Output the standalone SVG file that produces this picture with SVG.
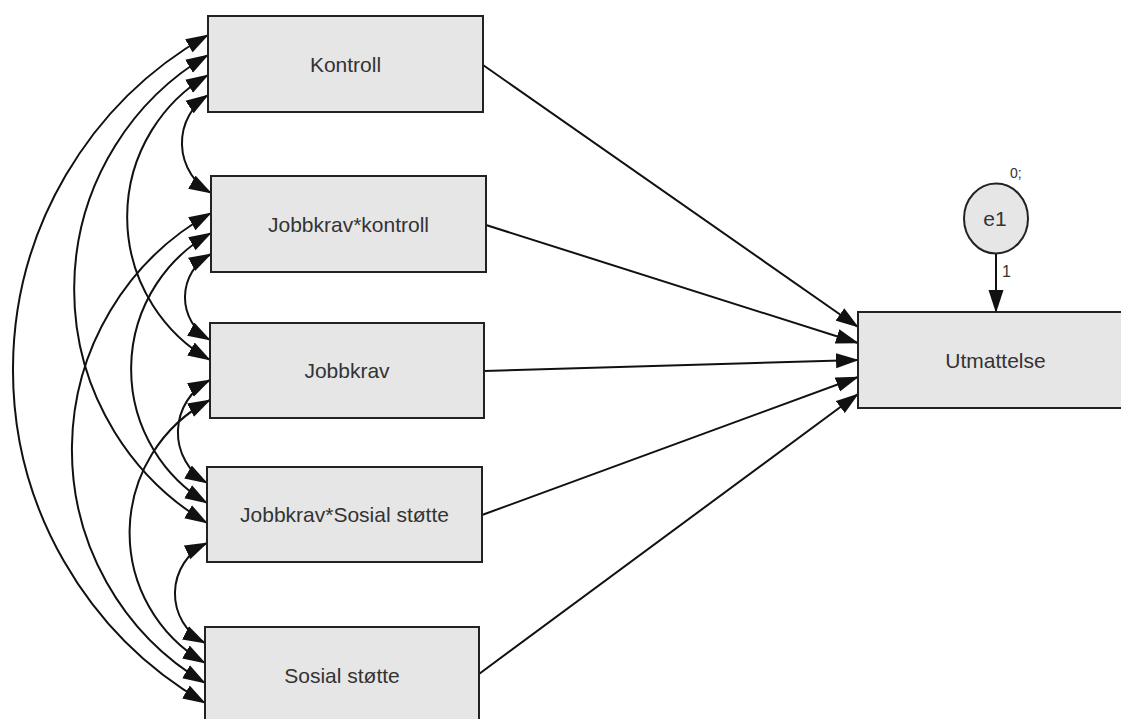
<svg xmlns="http://www.w3.org/2000/svg" width="1121" height="719" viewBox="0 0 1121 719">
<style>
.box{fill:#e6e6e6;stroke:#222;stroke-width:2}
.lbl{font-family:"Liberation Sans",Arial,sans-serif;font-size:21px;fill:#333;text-anchor:middle}
.small{font-family:"Liberation Sans",Arial,sans-serif;fill:#333}
.path{fill:none;stroke:#111;stroke-width:2;marker-end:url(#ah)}
.cov{fill:none;stroke:#111;stroke-width:2;marker-start:url(#ah);marker-end:url(#ah)}
</style>
<defs>
<marker id="ah" markerUnits="userSpaceOnUse" markerWidth="23" markerHeight="16" refX="22" refY="8" orient="auto-start-reverse" viewBox="0 0 23 16">
<path d="M0,0.5 L23,8 L0,15.5 z" fill="#111"/>
</marker>
</defs>
<rect width="1121" height="719" fill="#fff"/>
<g id="connectors">
<path class="path" d="M483,65 L858,327"/>
<path class="path" d="M486,225 L858,343"/>
<path class="path" d="M484,371 L858,360"/>
<path class="path" d="M482,515 L858,377"/>
<path class="path" d="M479,674 L858,394"/>
<path class="path" d="M996,253 L996,312"/>
<path class="cov" d="M208,35 A385,385 0 0 0 205,703"/>
<path class="cov" d="M208,55 A272,272 0 0 0 207,523"/>
<path class="cov" d="M208,75 A165,165 0 0 0 210,360"/>
<path class="cov" d="M208,95 A57.4,57.4 0 0 0 211,193"/>
<path class="cov" d="M211,213 A271,271 0 0 0 205,683"/>
<path class="cov" d="M211,233 A156,156 0 0 0 207,503"/>
<path class="cov" d="M211,254 A49,49 0 0 0 210,340"/>
<path class="cov" d="M210,380 A58.7,58.7 0 0 0 207,483"/>
<path class="cov" d="M210,400 A150,150 0 0 0 205,663"/>
<path class="cov" d="M207,543 A55.8,55.8 0 0 0 205,643"/>
<text class="small" x="1002" y="277" font-size="16">1</text>
</g>
<g id="kontroll"><rect class="box" x="208" y="16" width="275" height="96"/><text class="lbl" x="345.5" y="71.5">Kontroll</text></g>
<g id="jobbkrav-kontroll"><rect class="box" x="211" y="176" width="275" height="96"/><text class="lbl" x="348.5" y="231.5">Jobbkrav*kontroll</text></g>
<g id="jobbkrav"><rect class="box" x="210" y="323" width="274" height="95"/><text class="lbl" x="347" y="378">Jobbkrav</text></g>
<g id="jobbkrav-sosial"><rect class="box" x="207" y="467" width="275" height="95"/><text class="lbl" x="344.5" y="522">Jobbkrav*Sosial støtte</text></g>
<g id="sosial"><rect class="box" x="205" y="627" width="274" height="96"/><text class="lbl" x="342" y="682.5">Sosial støtte</text></g>
<g id="utmattelse"><rect class="box" x="858" y="312" width="275" height="96"/><text class="lbl" x="995.5" y="367.5">Utmattelse</text></g>
<g id="e1"><ellipse class="box" cx="996" cy="218.5" rx="32" ry="35"/><text class="lbl" x="995" y="226">e1</text><text class="small" x="1010" y="178" font-size="14">0;</text></g>
</svg>
